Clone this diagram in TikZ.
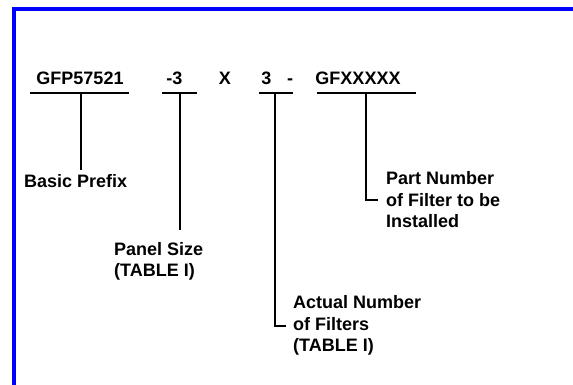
\documentclass[tikz,border=0pt]{standalone}
\usepackage{fontspec}
\setmainfont{Liberation Sans}
\begin{document}
\begin{tikzpicture}[x=1pt,y=-1pt,
  font=\fontsize{18}{21.5}\selectfont\bfseries,
  code/.style={anchor=base, inner sep=0pt},
  desc/.style={anchor=north west, inner sep=0pt, align=left},
  lead/.style={line width=2pt, draw=black},
  frame/.style={line width=4pt, draw={rgb,255:red,0;green,0;blue,255}}]
\useasboundingbox (0,0) rectangle (573,385);
% blue frame
\coordinate (ftr) at (573,9);
\coordinate (fbl) at (13.5,385);
\draw[frame] (ftr) -| (fbl);
% code parts
\node[code] (pfx)  at (80,85)    {GFP57521};
\node[code] (size) at (174.5,85) {-3};
\node[code] (x)    at (225,85)   {X};
\node[code] (cnt)  at (266.5,85) {3};
\node[code] (dash) at (290,85)   {-};
\node[code] (part) at (358,85)   {GFXXXXX};
% underlines
\coordinate (pfxL) at (30,93);   \coordinate (pfxR) at (129,93);
\coordinate (sizeL) at (162,93); \coordinate (sizeR) at (197,93);
\coordinate (cntL) at (259,93);  \coordinate (cntR) at (293,93);
\coordinate (partL) at (317,93); \coordinate (partR) at (416,93);
\draw[lead] (pfxL) -- (pfxR);
\draw[lead] (sizeL) -- (sizeR);
\draw[lead] (cntL) -- (cntR);
\draw[lead] (partL) -- (partR);
% leader start points
\coordinate (pfxM) at (81,93);
\coordinate (sizeM) at (180,93);
\coordinate (cntM) at (275,93);
\coordinate (partM) at (366,93);
% descriptions
\node[desc] (pfxd)  at (24,174)    {Basic Prefix};
\node[desc] (sized) at (114,242)   {Panel Size\\(TABLE I)};
\node[desc] (cntd)  at (293,295.5) {Actual Number\\of Filters\\(TABLE I)};
\node[desc] (partd) at (386,171.5) {Part Number\\of Filter to be\\Installed};
% leaders
\draw[lead, shorten >=4pt] (pfxM) -- (pfxM |- pfxd.north);
\draw[lead, shorten >=12pt] (sizeM) -- (sizeM |- sized.north);
\draw[lead, shorten >=7pt] (cntM) |- (cntd.west);
\draw[lead, shorten >=8pt] (partM) |- (partd.west);
\end{tikzpicture}
\end{document}
